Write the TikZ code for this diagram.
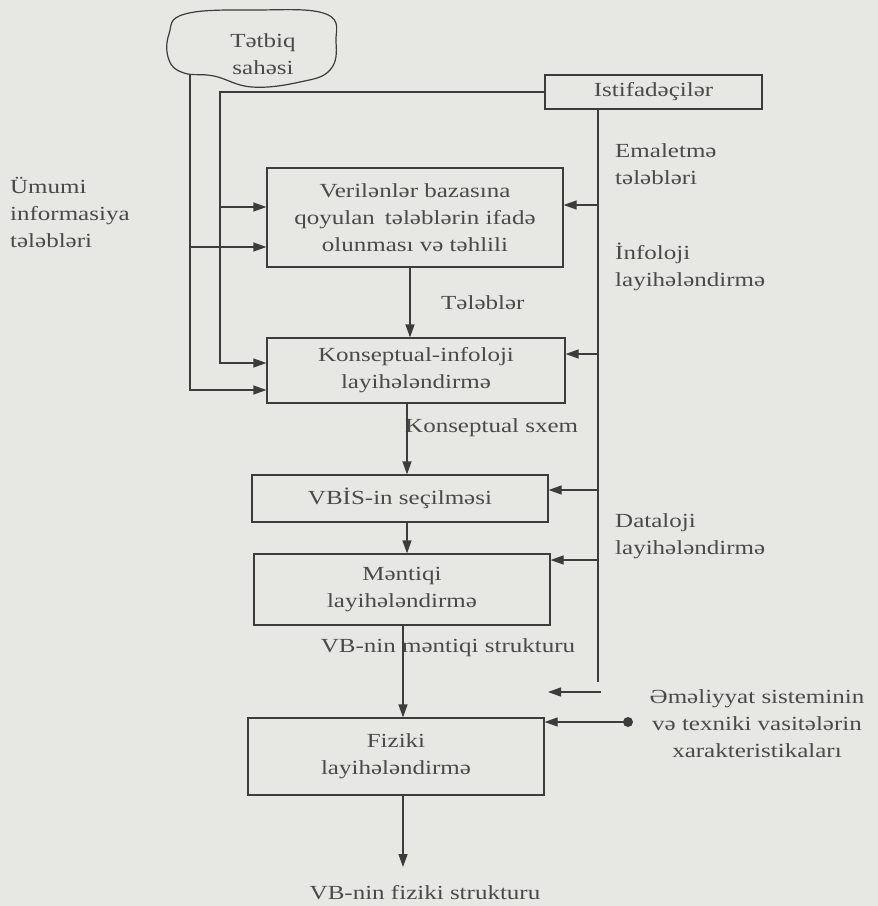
\documentclass[tikz,border=0pt]{standalone}
\usepackage{fontspec}
\setmainfont{Liberation Serif}[FakeStretch=1.25]
\usetikzlibrary{arrows.meta}
\definecolor{bg}{HTML}{E7E7E3}
\definecolor{ink}{HTML}{3C3C3C}
\definecolor{txt}{HTML}{4A4A4A}
\begin{document}
\begin{tikzpicture}[x=1pt,y=-1pt,
  every node/.style={font=\fontsize{20}{27}\selectfont, text=txt, inner sep=0pt},
  boxn/.style={draw=ink, line width=1.2pt, align=center},
  lbl/.style={align=left, anchor=west},
  ln/.style={draw=ink, line width=1.2pt},
  arr/.style={ln, -{Triangle[length=13pt,width=9pt]}}]
\fill[bg] (0,0) rectangle (878,906);
\useasboundingbox (0,0) rectangle (878,906);
% cloud
\draw[ln] plot[smooth cycle, tension=0.7] coordinates {(185,14) (255,10) (326,14) (336,42) (330,70) (300,82) (252,87) (214,76) (184,73) (169,60) (169,34)};
\node[align=center] (tat) at (263,54) {Tətbiq\\sahəsi};
\coordinate (cb) at (190,74);
% boxes
\node[boxn, minimum width=217pt, minimum height=34pt] (ist) at (653.5,92) {Istifadəçilər};
\node[boxn, minimum width=296pt, minimum height=99pt] (ver) at (415,217.5) {Verilənlər bazasına\\qoyulan\enspace tələblərin ifadə\\olunması və təhlili};
\node[boxn, minimum width=298pt, minimum height=65pt] (kon) at (416,370.5) {Konseptual-infoloji\\layihələndirmə};
\node[boxn, minimum width=296pt, minimum height=47pt] (vbis) at (400,498.5) {VBİS-in seçilməsi};
\node[boxn, minimum width=296pt, minimum height=71pt] (men) at (402,589.5) {Məntiqi\\layihələndirmə};
\node[boxn, minimum width=296pt, minimum height=77pt] (fiz) at (396,756.5) {Fiziki\\layihələndirmə};
% labels
\node[lbl] (umu) at (10,212) {Ümumi\\informasiya\\tələbləri};
\node[lbl] (ema) at (615,164) {Emaletmə\\tələbləri};
\node[lbl] (inf) at (615,267) {İnfoloji\\layihələndirmə};
\node[lbl] (tel) at (441,303) {Tələblər};
\node[lbl] (ksx) at (405,428) {Konseptual sxem};
\node[lbl] (dat) at (615,536) {Dataloji\\layihələndirmə};
\node (vbm) at (448,648) {VB-nin məntiqi strukturu};
\node[align=center] (eme) at (757,724) {Əməliyyat sisteminin\\və texniki vasitələrin\\xarakteristikaları};
\node (vbf) at (425,893) {VB-nin fiziki strukturu};
% helper coordinates
\coordinate (rv) at (598,0);
\coordinate (dot) at (628,722);
\coordinate (out) at (403,867);
% left feeds
\draw[arr] (cb) -- (190,390) -- (kon.west |- 0,390);
\draw[arr] (190,247) -- (ver.west |- 0,247);
\draw[arr] (ist.west) -| (220,363) -- (kon.west |- 0,363);
\draw[arr] (220,207) -- (ver.west |- 0,207);
% right feeds
\draw[ln] (ist.south -| rv) -- (rv |- 0,682);
\draw[arr] (rv |- 0,205) -- (ver.east |- 0,205);
\draw[arr] (rv |- 0,354) -- (kon.east |- 0,354);
\draw[arr] (rv |- 0,490) -- (vbis.east |- 0,490);
\draw[arr] (rv |- 0,560) -- (men.east |- 0,560);
\draw[arr] (601,692) -- (548,692);
\fill[ink] (dot) circle (5pt);
\draw[arr] (dot) -- (fiz.east |- dot);
% spine
\draw[arr] (ver.south -| 410,0) -- (kon.north -| 410,0);
\draw[arr] (kon.south -| 407,0) -- (vbis.north -| 407,0);
\draw[arr] (vbis.south -| 407,0) -- (men.north -| 407,0);
\draw[arr] (men.south -| 403,0) -- (fiz.north -| 403,0);
\draw[arr] (fiz.south -| out) -- (out);
\end{tikzpicture}
\end{document}
